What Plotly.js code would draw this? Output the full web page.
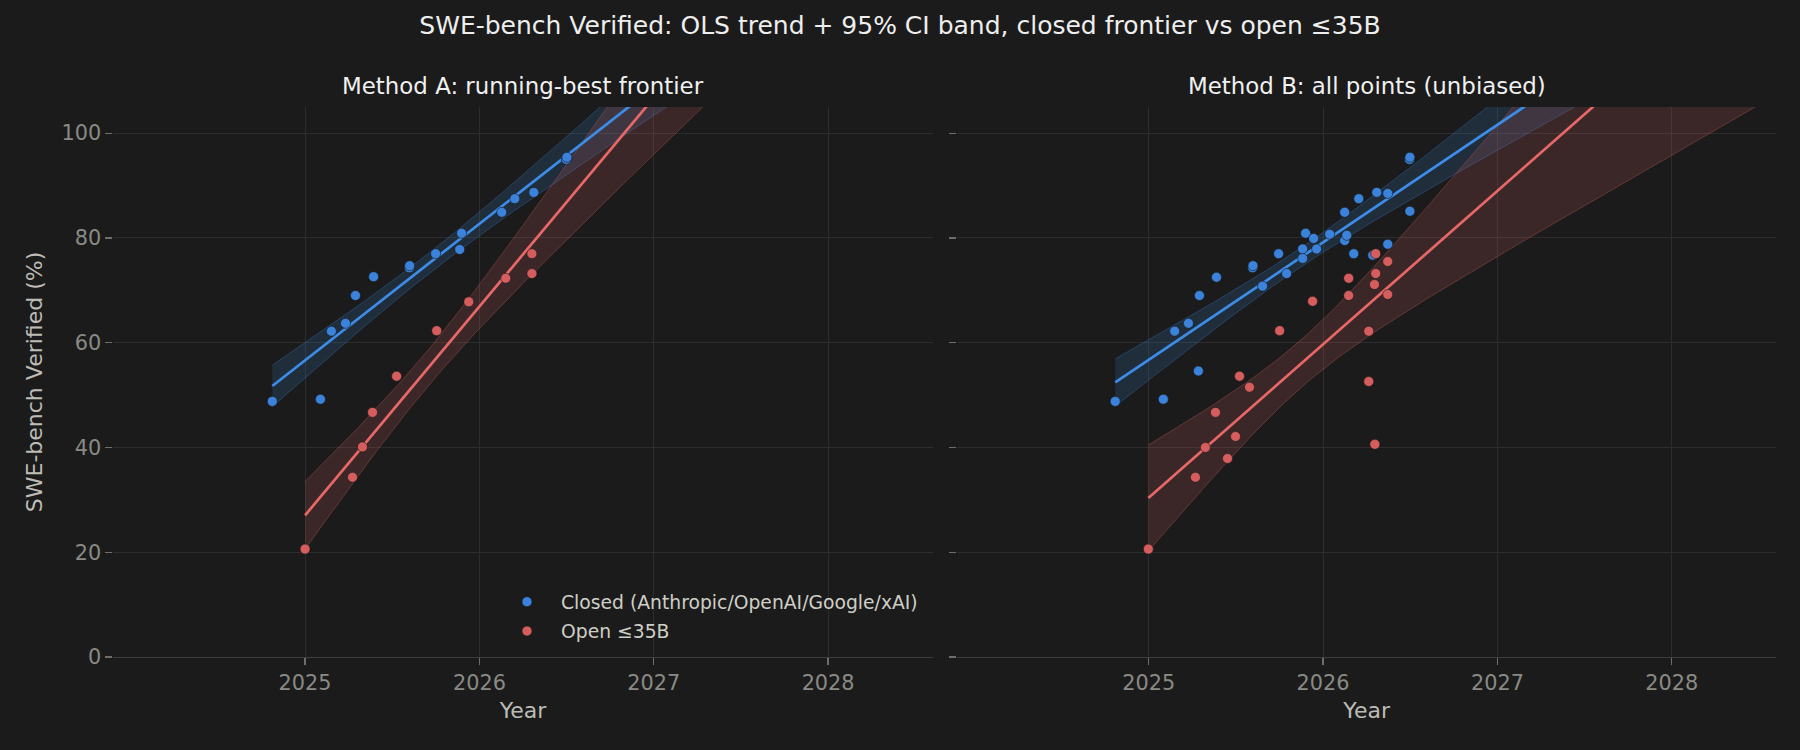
<!DOCTYPE html>
<html><head><meta charset="utf-8">
<script src="https://cdn.plot.ly/plotly-3.0.1.min.js"></script>
<style>html,body{margin:0;padding:0;background:#1b1b1b;}#chart{width:1800px;height:750px;}</style>
</head><body><div id="chart"></div>
<script>
// ---- Data (decimal year, SWE-bench Verified %) ----
// Method A: running-best frontier
const closedA_x = [2024.812, 2025.088, 2025.151, 2025.232, 2025.289, 2025.393, 2025.598, 2025.600, 2025.749, 2025.887, 2025.898, 2026.128, 2026.203, 2026.312, 2026.498, 2026.502];
const closedA_y = [48.8, 49.2, 62.2, 63.7, 69.0, 72.6, 74.3, 74.7, 77.0, 77.8, 80.9, 84.9, 87.5, 88.7, 95.0, 95.4];
const openA_x = [2025.000, 2025.272, 2025.329, 2025.387, 2025.525, 2025.755, 2025.939, 2026.151, 2026.301, 2026.301];
const openA_y = [20.6, 34.3, 40.1, 46.7, 53.6, 62.3, 67.8, 72.3, 73.2, 77.0];
// Method B: all points
const closedB_x = [2024.808, 2025.084, 2025.149, 2025.228, 2025.285, 2025.291, 2025.389, 2025.596, 2025.598, 2025.653, 2025.745, 2025.791, 2025.883, 2025.883, 2025.900, 2025.946, 2025.963, 2026.038, 2026.124, 2026.124, 2026.136, 2026.176, 2026.205, 2026.285, 2026.308, 2026.371, 2026.371, 2026.496, 2026.498, 2026.498];
const closedB_y = [48.8, 49.2, 62.2, 63.7, 54.6, 69.0, 72.5, 74.3, 74.7, 70.8, 77.0, 73.2, 77.9, 76.1, 80.9, 79.9, 77.9, 80.7, 84.9, 79.5, 80.5, 77.0, 87.5, 76.7, 88.7, 88.5, 78.8, 95.0, 95.4, 85.1];
const openB_x = [2024.998, 2025.268, 2025.325, 2025.383, 2025.452, 2025.498, 2025.521, 2025.578, 2025.751, 2025.940, 2026.147, 2026.147, 2026.262, 2026.262, 2026.297, 2026.302, 2026.302, 2026.295, 2026.371, 2026.371];
const openB_y = [20.6, 34.3, 40.0, 46.7, 37.9, 42.1, 53.6, 51.5, 62.3, 67.9, 72.3, 69.0, 62.2, 52.6, 40.6, 77.0, 73.2, 71.1, 75.5, 69.2];

const seriesNames = ['Closed (Anthropic/OpenAI/Google/xAI)', 'Open \u226435B'];
const panelTitles = ['Method A: running-best frontier', 'Method B: all points (unbiased)'];
const xTickVals = [2025, 2026, 2027, 2028];
const yTickVals = [0, 20, 40, 60, 80, 100];
const projectTo = 2028.5;

// ---- Stats helpers (OLS + 95% confidence band) ----
function lnGamma(z){const g=7,c=[0.99999999999980993,676.5203681218851,-1259.1392167224028,771.32342877765313,-176.61502916214059,12.507343278686905,-0.13857109526572012,9.9843695780195716e-6,1.5056327351493116e-7];
  if(z<0.5) return Math.log(Math.PI/Math.sin(Math.PI*z))-lnGamma(1-z);
  z-=1;let x=c[0];for(let i=1;i<g+2;i++)x+=c[i]/(z+i);const t=z+g+0.5;
  return 0.5*Math.log(2*Math.PI)+(z+0.5)*Math.log(t)-t+Math.log(x);}
function betacf(a,b,x){let qab=a+b,qap=a+1,qam=a-1,c=1,d=1-qab*x/qap;if(Math.abs(d)<1e-30)d=1e-30;d=1/d;let h=d;
  for(let m=1;m<=200;m++){let m2=2*m,aa=m*(b-m)*x/((qam+m2)*(a+m2));d=1+aa*d;if(Math.abs(d)<1e-30)d=1e-30;c=1+aa/c;if(Math.abs(c)<1e-30)c=1e-30;d=1/d;h*=d*c;
  aa=-(a+m)*(qab+m)*x/((a+m2)*(qap+m2));d=1+aa*d;if(Math.abs(d)<1e-30)d=1e-30;c=1+aa/c;if(Math.abs(c)<1e-30)c=1e-30;d=1/d;const del=d*c;h*=del;if(Math.abs(del-1)<3e-12)break;}return h;}
function ibeta(a,b,x){if(x<=0)return 0;if(x>=1)return 1;const bt=Math.exp(lnGamma(a+b)-lnGamma(a)-lnGamma(b)+a*Math.log(x)+b*Math.log(1-x));
  return (x<(a+1)/(a+b+2))?bt*betacf(a,b,x)/a:1-bt*betacf(b,a,1-x)/b;}
function tcdf(t,df){const x=df/(df+t*t);const p=0.5*ibeta(df/2,0.5,x);return t>0?1-p:p;}
function tinv(p,df){let lo=0,hi=50;for(let i=0;i<100;i++){const m=(lo+hi)/2;if(tcdf(m,df)<p)lo=m;else hi=m;}return (lo+hi)/2;}
function olsBand(xs,ys,xEnd,nPts){
  const n=xs.length,mx=xs.reduce((a,b)=>a+b,0)/n,my=ys.reduce((a,b)=>a+b,0)/n;
  let sxx=0,sxy=0;for(let i=0;i<n;i++){sxx+=(xs[i]-mx)**2;sxy+=(xs[i]-mx)*(ys[i]-my);}
  const b=sxy/sxx,a=my-b*mx;let sse=0;for(let i=0;i<n;i++)sse+=(ys[i]-(a+b*xs[i]))**2;
  const s=Math.sqrt(sse/(n-2)),t=tinv(0.975,n-2);const x0=Math.min(...xs);
  const gx=[],fit=[],lo=[],up=[];
  for(let k=0;k<nPts;k++){const x=x0+(xEnd-x0)*k/(nPts-1);const yh=a+b*x;const se=s*Math.sqrt(1/n+(x-mx)**2/sxx);
    gx.push(x);fit.push(yh);lo.push(yh-t*se);up.push(yh+t*se);}
  return {gx,fit,lo,up};
}

const BLUE_LINE='#3d8ce8', BLUE_PT='#3a82da', RED_LINE='#e86868', RED_PT='#d65d5d';
const BLUE_FILL='rgba(61,140,232,0.16)', RED_FILL='rgba(232,104,104,0.16)';
const BLUE_EDGE='rgba(61,140,232,0.30)', RED_EDGE='rgba(232,104,104,0.30)';

function panelTraces(cx,cy,ox,oy,xa,ya,legend){
  const bc=olsBand(cx,cy,projectTo,120), br=olsBand(ox,oy,projectTo,120);
  const band=(b,fill,edge)=>({x:b.gx.concat(b.gx.slice().reverse()),y:b.up.concat(b.lo.slice().reverse()),
    xaxis:xa,yaxis:ya,mode:'lines',fill:'toself',fillcolor:fill,line:{color:edge,width:1},showlegend:false,hoverinfo:'skip'});
  const line=(b,c)=>({x:b.gx,y:b.fit,xaxis:xa,yaxis:ya,mode:'lines',line:{color:c,width:2.7},showlegend:false,hoverinfo:'skip'});
  const pts=(x,y,c,name)=>({x:x,y:y,xaxis:xa,yaxis:ya,mode:'markers',name:name,showlegend:legend,legendgroup:name,
    marker:{color:c,size:10,line:{color:'rgba(25,25,25,0.75)',width:0.8}}});
  return [band(bc,BLUE_FILL,BLUE_EDGE),band(br,RED_FILL,RED_EDGE),line(bc,BLUE_LINE),line(br,RED_LINE),
          pts(cx,cy,BLUE_PT,seriesNames[0]),pts(ox,oy,RED_PT,seriesNames[1])];
}

const traces=[].concat(
  panelTraces(closedA_x,closedA_y,openA_x,openA_y,'x','y',true),
  panelTraces(closedB_x,closedB_y,openB_x,openB_y,'x2','y2',false));

const FONT='DejaVu Sans, sans-serif';
const GRID='#2d2d2d', SPINE='#3e3e3e', TICKC='#8a8a85', LABELC='#bdbdb6';
const xaxisBase={range:[2023.9,2028.6],tickvals:xTickVals,ticktext:xTickVals.map(String),showgrid:true,gridcolor:GRID,gridwidth:1,
  zeroline:false,showline:true,linecolor:SPINE,linewidth:1.3,ticks:'outside',ticklen:7,tickwidth:1.3,tickcolor:'#6e6e6a',
  tickfont:{family:FONT,size:20.8,color:TICKC},title:{text:'Year',font:{family:FONT,size:22,color:LABELC},standoff:8}};
const yaxisBase={range:[0,105],tickvals:yTickVals,showgrid:true,gridcolor:GRID,gridwidth:1,zeroline:false,showline:false,
  ticks:'outside',ticklen:7,tickwidth:1.3,tickcolor:'#6e6e6a',tickfont:{family:FONT,size:20.8,color:TICKC}};

const layout={
  width:1800,height:750,paper_bgcolor:'#1b1b1b',plot_bgcolor:'#1b1b1b',
  margin:{l:0,r:0,t:0,b:0},showlegend:true,
  title:{text:'SWE-bench Verified: OLS trend + 95% CI band, closed frontier vs open \u226435B',
    font:{family:FONT,size:25,color:'#eeeeee'},x:0.5,xanchor:'center',y:1-25/750,yanchor:'middle',yref:'container'},
  xaxis:Object.assign({},xaxisBase,{domain:[113.3/1800,932.7/1800],anchor:'y'}),
  yaxis:Object.assign({},yaxisBase,{domain:[93/750,643/750],anchor:'x',
    title:{text:'SWE-bench Verified (%)',font:{family:FONT,size:22,color:LABELC},standoff:12}}),
  xaxis2:Object.assign({},xaxisBase,{domain:[956.9/1800,1776.4/1800],anchor:'y2'}),
  yaxis2:Object.assign({},yaxisBase,{domain:[93/750,643/750],anchor:'x2',showticklabels:false}),
  legend:{x:493/1800,y:1-583/750,xanchor:'left',yanchor:'top',bgcolor:'rgba(0,0,0,0)',borderwidth:0,
    font:{family:FONT,size:18.75,color:'#cfcfc6'},itemwidth:58,tracegroupgap:2},
  annotations:[
    {text:panelTitles[0],xref:'paper',yref:'paper',x:(113.3+932.7)/2/1800,y:1-86/750,xanchor:'center',yanchor:'middle',showarrow:false,
      font:{family:FONT,size:22.9,color:'#f0f0f0'}},
    {text:panelTitles[1],xref:'paper',yref:'paper',x:(956.9+1776.4)/2/1800,y:1-86/750,xanchor:'center',yanchor:'middle',showarrow:false,
      font:{family:FONT,size:22.9,color:'#f0f0f0'}}
  ]
};
Plotly.newPlot('chart',traces,layout,{staticPlot:true,displayModeBar:false});
</script></body></html>
